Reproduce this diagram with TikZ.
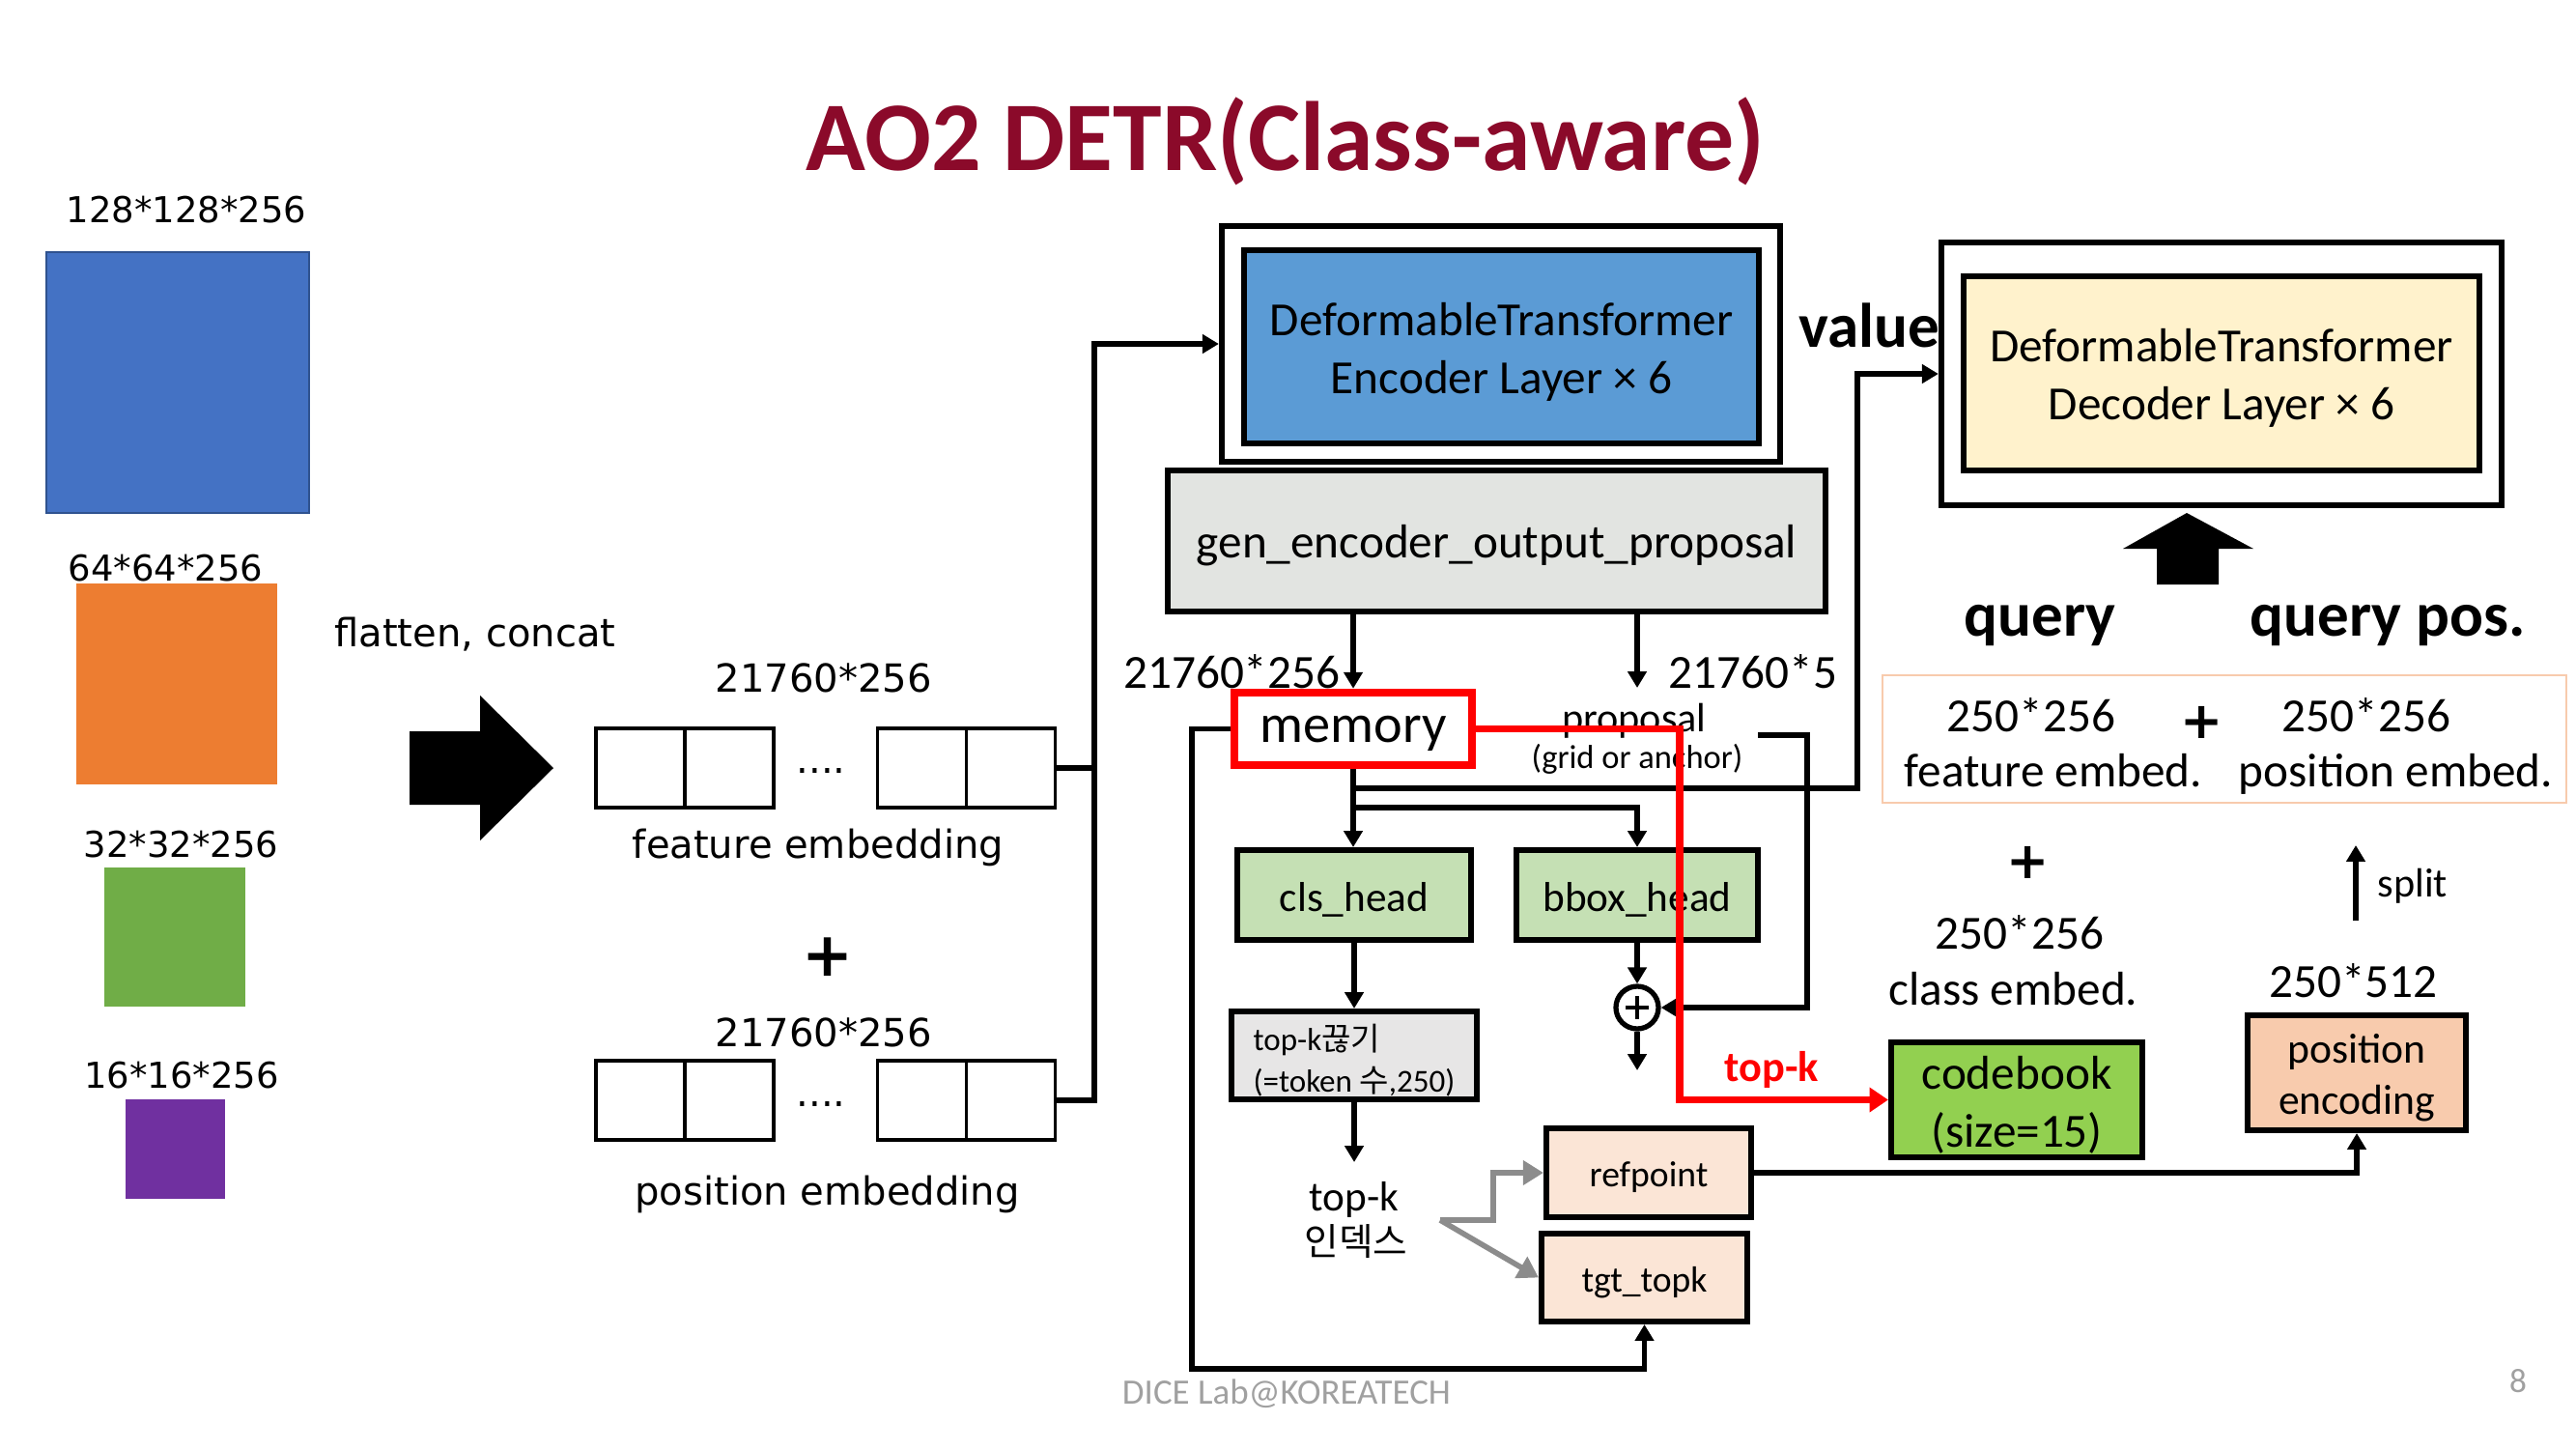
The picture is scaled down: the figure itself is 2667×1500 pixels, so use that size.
\documentclass[tikz,border=0pt]{standalone}
\usepackage{fontspec}
\setmainfont{Carlito}
\newfontfamily\dejavu{DejaVu Sans}
\newfontfamily\kr{Noto Sans CJK KR}
\usetikzlibrary{arrows.meta}
\newcommand\fsz[2]{\fontsize{#1}{#2}\selectfont}
\definecolor{encblue}{HTML}{5B9BD5}
\definecolor{gengray}{HTML}{E2E4E1}
\definecolor{lgreen}{HTML}{C5E0B4}
\definecolor{lgray}{HTML}{E7E6E6}
\definecolor{lpeach}{HTML}{FBE5D6}
\definecolor{lyellow}{HTML}{FFF2CC}
\definecolor{cbgreen}{HTML}{92D050}
\definecolor{peach}{HTML}{F8CBAD}
\definecolor{titlered}{HTML}{8B0A2A}
\definecolor{fblue}{HTML}{4472C4}
\definecolor{fblueb}{HTML}{2F528F}
\definecolor{forange}{HTML}{ED7D31}
\definecolor{fgreen}{HTML}{70AD47}
\definecolor{fpurple}{HTML}{7030A0}
\definecolor{garrow}{HTML}{8C8C8C}
\definecolor{footgray}{HTML}{A0A0A0}
\begin{document}
\begin{tikzpicture}[x=0.01cm,y=-0.01cm,
  box/.style={draw, line width=1.7pt, inner sep=0pt, align=center},
  btxt/.style={inner sep=0pt, align=center, yshift=-0.05cm},
  conn/.style={line width=1.6pt},
  arr/.style={conn, -{Triangle[length=4.8pt,width=5.4pt]}},
  redarr/.style={draw=red, line width=2.2pt, -{Triangle[length=5.5pt,width=7pt]}},
  grayarr/.style={draw=garrow, line width=1.6pt, -{Triangle[length=6pt,width=7pt]}},
  emb/.style={draw, line width=0.9pt, minimum width=1.84cm, minimum height=0.82cm, inner sep=0pt},
  lt/.style={font=\dejavu\fsz{10.5pt}{12pt}, inner sep=0pt, anchor=base},
  mt/.style={font=\dejavu\fsz{11.4pt}{13pt}, inner sep=0pt, anchor=base},
  ct/.style={font=\fsz{14pt}{16pt}, inner sep=0pt, anchor=base},
  bt/.style={font=\bfseries\fsz{18.5pt}{20pt}, inner sep=0pt, anchor=base},
  bigplus/.style={font=\dejavu\bfseries\fsz{#1}{#1}, inner sep=0pt}
]
\useasboundingbox (0,0) rectangle (2667,1500);

% title
\node[font=\bfseries\fsz{29pt}{32pt}, text=titlered, inner sep=0pt, anchor=base] (title) at (1331,177) {AO2 DETR(Class-aware)};

% left feature maps
\filldraw[fill=fblue, draw=fblueb, line width=0.8pt] (48,261) rectangle (320,531);
\fill[forange] (79,604) rectangle (287,812);
\fill[fgreen] (108,898) rectangle (254,1042);
\fill[fpurple] (130,1138) rectangle (233,1241);
\node[lt] (l1) at (193,231) {128*128*256};
\node[lt] (l2) at (171.5,601) {64*64*256};
\node[lt] (l3) at (187.5,887) {32*32*256};
\node[lt] (l4) at (188,1126) {16*16*256};
\node[mt] (flat) at (492,669) {flatten, concat};
\fill (424,757) -- (497,757) -- (497,720) -- (573,795) -- (497,870) -- (497,833) -- (424,833) -- cycle;

% embeddings
\node[emb] (fe1) at (709,795) {};
\node[emb] (fe2) at (1000.5,795) {};
\node[emb] (pe1) at (709,1139) {};
\node[emb] (pe2) at (1000.5,1139) {};
\foreach \n in {fe1,fe2,pe1,pe2} \draw[line width=0.9pt] (\n.north) -- (\n.south);
\node[mt] (fdots) at (850,800) {....};
\node[mt] (pdots) at (850,1145) {....};
\node[mt] (fdim) at (853,716) {21760*256};
\node[mt] (femb) at (847,888) {feature embedding};
\node[bigplus=18pt] (plusL) at (857,991) {+};
\node[mt] (pdim) at (853,1083) {21760*256};
\node[mt] (pemb) at (856.5,1247) {position embedding};

% encoder
\node[box, minimum width=5.78cm, minimum height=2.44cm] (encO) at (1554,356) {};
\node[box, fill=encblue, minimum width=5.33cm, minimum height=2.00cm] (encI) at (1554.5,359) {};
\node[btxt, font=\fsz{14pt}{17pt}] (encT) at (encI.center) {DeformableTransformer\\Encoder Layer × 6};
\node[box, fill=gengray, minimum width=6.81cm, minimum height=1.46cm] (gen) at (1549.5,560) {};
\node[btxt, font=\fsz{14pt}{17pt}] (genT) at (gen.center) {gen\_encoder\_output\_proposal};

\draw[arr] (fe2.east) -- ++(39,0) |- (encO.west);
\draw[conn] (pe2.east) -- ++(39,0) |- (fe2.east);

% memory etc.
\node[draw=red, line width=2.4pt, fill=white, minimum width=2.46cm, minimum height=0.75cm, inner sep=0pt] (mem) at (1401,754.5) {};
\node[btxt, font=\fsz{16pt}{18pt}] (memT) at (mem.center) {memory};
\node[ct, anchor=base east] (d1) at (1388,712) {21760*256};
\node[ct, anchor=base west] (d2) at (1727,712) {21760*5};
\node[font=\fsz{12pt}{14pt}, inner sep=0pt, anchor=base] (prop) at (1692,757) {proposal};
\node[font=\fsz{9.8pt}{11pt}, inner sep=0pt, anchor=base] (grid) at (1695,795) {(grid or anchor)};

\node[box, fill=lgreen, minimum width=2.42cm, minimum height=0.93cm] (cls) at (1402,926.5) {};
\node[btxt, font=\fsz{12.3pt}{14pt}] (clsT) at (cls.center) {cls\_head};
\node[box, fill=lgreen, minimum width=2.50cm, minimum height=0.93cm] (bbox) at (1695,926.5) {};
\node[btxt, font=\fsz{12.3pt}{14pt}] (bboxT) at (bbox.center) {bbox\_head};
\node[circle, draw, line width=1.5pt, minimum size=0.44cm, inner sep=0pt] (op) at (1695,1043) {};
\draw[line width=1pt] (op.center) +(-12,0) -- +(12,0);
\draw[line width=1pt] (op.center) +(0,-12) -- +(0,12);

\node[box, fill=lgray, minimum width=2.54cm, minimum height=0.91cm] (topk) at (1402,1092.5) {};
\node[btxt, align=left, font=\fsz{9.4pt}{12.4pt}] (topkT) at (topk.center) {top-k{\kr 끊기}\\(=token {\kr 수},250)};
\node[font=\fsz{12.3pt}{14pt}, inner sep=0pt] (tkA) at (1402,1242) {top-k};
\node[font=\kr\fsz{11pt}{13pt}, inner sep=0pt] (tkB) at (1404,1285) {인덱스};

\node[box, fill=lpeach, minimum width=2.12cm, minimum height=0.92cm] (refp) at (1707,1214) {};
\node[btxt, font=\fsz{10.7pt}{12pt}] (refpT) at (refp.center) {refpoint};
\node[box, fill=lpeach, minimum width=2.13cm, minimum height=0.91cm] (tgt) at (1702.5,1322.5) {};
\node[btxt, font=\fsz{10.7pt}{12pt}] (tgtT) at (tgt.center) {tgt\_topk};

% decoder
\node[box, minimum width=5.80cm, minimum height=2.72cm] (decO) at (2300,387) {};
\node[box, fill=lyellow, minimum width=5.34cm, minimum height=2.01cm] (decI) at (2300,386.5) {};
\node[btxt, font=\fsz{14pt}{17pt}] (decT) at (decI.center) {DeformableTransformer\\Decoder Layer × 6};
\fill (2233,605) -- (2233,568) -- (2198,568) -- (2264,531) -- (2333,568) -- (2297,568) -- (2297,605) -- cycle;
\node[bt] (value) at (1935,359) {value};
\node[bt] (query) at (2112,658) {query};
\node[bt] (qpos) at (2472,658) {query pos.};
\node[draw=peach, line width=0.6pt, minimum width=7.08cm, minimum height=1.32cm, inner sep=0pt] (qr) at (2303,765) {};
\node[ct] (qa) at (2103,757) {250*256};
\node[bigplus=15pt] (qplus) at (2280,748) {+};
\node[ct] (qb) at (2450,757) {250*256};
\node[ct] (fe) at (2126,814) {feature embed.};
\node[ct] (pe) at (2480.5,814) {position embed.};
\node[bigplus=15pt] (cplus) at (2100,893) {+};
\node[ct] (c250) at (2091,982) {250*256};
\node[ct] (cemb) at (2084.5,1040) {class embed.};
\node[ct] (p512) at (2436.5,1032) {250*512};
\node[font=\fsz{12pt}{14pt}, inner sep=0pt, anchor=west] (split) at (2461,917) {split};
\node[box, fill=cbgreen, minimum width=2.60cm, minimum height=1.19cm] (cb) at (2088,1138.5) {};
\node[btxt, font=\fsz{14pt}{17pt}] (cbT) at (cb.center) {codebook\\(size=15)};
\node[box, fill=peach, minimum width=2.26cm, minimum height=1.19cm] (pos) at (2440,1110.5) {};
\node[btxt, font=\fsz{12.4pt}{15pt}] (posT) at (pos.center) {position\\encoding};
\node[font=\bfseries\fsz{12.6pt}{14pt}, text=red, inner sep=0pt, anchor=base west] (rtk) at (1785,1119) {top-k};

% footer
\node[font=\fsz{10.5pt}{12pt}, text=footgray, inner sep=0pt, anchor=base] (foot) at (1332,1453) {DICE Lab@KOREATECH};
\node[font=\fsz{10pt}{12pt}, text=footgray, inner sep=0pt] (pg) at (2607,1430) {8};

% connectors
\coordinate (pt) at (1695,712);
\coordinate (bl) at (1234,1417);
\coordinate (jA) at (1401,816);
\coordinate (jB) at (1401,836);
\coordinate (opo) at (1695,1108);
\coordinate (pr) at (1820,761);
\coordinate (tko) at (1402,1203);
\coordinate (gs) at (1491,1263);
\coordinate (sp0) at (2439,953);
\coordinate (sp1) at (2439,875);

\draw[arr] (gen.south -| mem.north) -- (mem.north);
\draw[arr] (gen.south -| pt) -- (pt);
\draw[arr] (mem.west) -| (bl) -- (bl -| tgt.south) -- (tgt.south);
\draw[arr] (mem.south) -- (mem.south |- cls.north);
\draw[arr] (jB) -| (bbox.north);
\draw[arr] (jA) -- (1923,816) |- (decO.west);
\draw[arr] (bbox.south) -- (op.north);
\draw[arr] (op.south) -- (opo);
\draw[arr] (pr) -- (1871,761) |- (op.east);
\draw[arr] (cls.south) -- (cls.south |- topk.north);
\draw[arr] (topk.south) -- (tko);
\draw[grayarr] (gs) -- (1546,1263) |- (refp.west);
\draw[grayarr] (gs) -- (tgt.west);
\draw[arr] (refp.east) -| (pos.south);
\draw[arr] (sp0) -- (sp1);
\draw[redarr] (mem.east) -- (1739,754.5) |- (cb.west);
\end{tikzpicture}
\end{document}
